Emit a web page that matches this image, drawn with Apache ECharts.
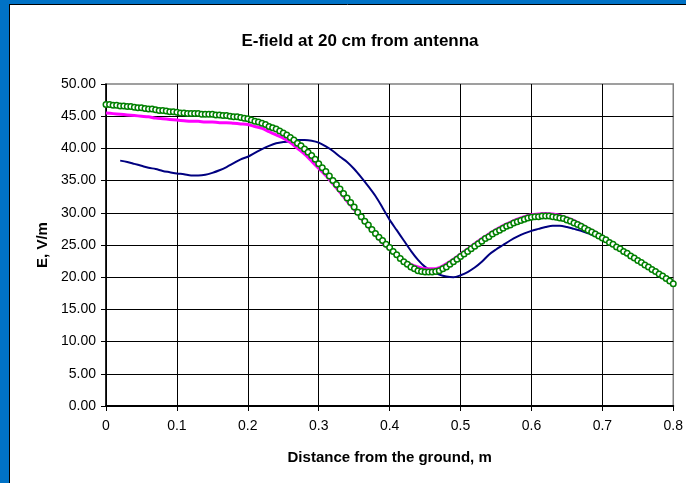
<!DOCTYPE html>
<html>
<head>
<meta charset="utf-8">
<script src="https://cdn.jsdelivr.net/npm/echarts@6/dist/echarts.min.js"></script>
<style>
html,body{margin:0;padding:0;background:#fff;}
#c{width:686px;height:483px;}
</style>
</head>
<body>
<div id="c"></div>
<script>
// ---- data ----
const xTicks = ['0','0.1','0.2','0.3','0.4','0.5','0.6','0.7','0.8'];
const yTicks = ['0.00','5.00','10.00','15.00','20.00','25.00','30.00','35.00','40.00','45.00','50.00'];

const navyStart = 0.02, navyStep = 0.01;
const navyValues = [38.1,37.9,37.6,37.3,37.0,36.8,36.5,36.3,36.1,36.0,
  35.8,35.8,35.9,36.2,36.6,37.1,37.7,38.3,38.7,39.3,
  39.9,40.4,40.8,41.0,41.1,41.3,41.3,41.2,40.9,40.3,
  39.6,38.7,37.9,36.8,35.5,34.1,32.6,30.8,28.9,27.3,
  25.7,24.1,22.7,21.6,20.9,20.4,20.1,20.0,20.3,20.8,
  21.5,22.4,23.5,24.3,25.0,25.7,26.3,26.8,27.2,27.5,
  27.8,28.0,28.0,27.8,27.5,27.2,26.8,26.4,25.9,25.4,24.8];

const magentaStart = 0, magentaStep = 0.01;
const magentaValues = [45.5,45.4,45.3,45.2,45.1,45.0,44.9,44.7,44.6,44.5,
  44.4,44.3,44.2,44.2,44.1,44.1,44.0,44.0,43.9,43.8,
  43.7,43.4,43.1,42.6,42.1,41.6,40.9,40.0,39.1,38.0,
  36.9,35.8,34.5,33.2,31.8,30.5,29.1,27.8,26.5,25.3,
  24.3,23.3,22.6,22.0,21.6,21.3,21.3,21.5,22.1,22.8,
  23.6,24.4,25.2,26.0,26.7,27.4,28.0,28.5,29.0,29.4,
  29.7,29.8,29.9,29.8,29.6,29.2,28.8,28.2,27.6,27.0,
  26.3,25.6,24.9,24.1,23.4,22.7,21.9,21.2,20.5,19.8,19.0];

const greenStart = 0, greenStep = 0.005;
const greenValues = [46.8,46.8,46.7,46.7,46.6,46.6,46.5,46.5,46.4,46.3,
  46.3,46.2,46.1,46.1,46.0,45.9,45.9,45.8,45.7,45.7,
  45.6,45.5,45.5,45.4,45.4,45.4,45.4,45.3,45.3,45.3,
  45.3,45.2,45.2,45.1,45.1,45.0,44.9,44.9,44.8,44.7,
  44.6,44.4,44.2,44.1,43.9,43.7,43.4,43.2,43.0,42.7,
  42.4,42.1,41.7,41.3,40.8,40.4,39.9,39.4,38.9,38.3,
  37.6,37.0,36.4,35.7,35.0,34.4,33.7,33.0,32.3,31.6,
  30.9,30.1,29.4,28.7,28.1,27.4,26.8,26.2,25.7,25.1,
  24.6,24.0,23.5,22.9,22.4,22.0,21.6,21.3,21.0,20.9,
  20.8,20.8,20.8,20.9,21.0,21.3,21.6,22.0,22.4,22.8,
  23.2,23.6,24.0,24.4,24.8,25.2,25.6,26.0,26.3,26.7,
  27.0,27.3,27.6,27.9,28.1,28.4,28.6,28.8,29.0,29.2,
  29.3,29.4,29.4,29.5,29.5,29.5,29.4,29.3,29.2,29.1,
  28.9,28.7,28.4,28.2,27.9,27.6,27.3,27.0,26.7,26.4,
  26.1,25.8,25.4,25.1,24.7,24.4,24.0,23.7,23.3,23.0,
  22.6,22.3,21.9,21.6,21.2,20.9,20.5,20.2,19.8,19.4,19.0];

function pairs(start, step, vals){
  return vals.map((v,i)=>[+(start + i*step).toFixed(4), v]);
}

const chart = echarts.init(document.getElementById('c'), null, {renderer:'canvas'});
const FONT = 'Liberation Sans, Arial, sans-serif';
chart.setOption({
  backgroundColor:'#fff',
  animation:false,
  textStyle:{fontFamily:FONT},
  graphic:[
    {type:'rect', shape:{x:0,y:0,width:686,height:4}, style:{fill:'#0072C6'}, z:-10},
    {type:'rect', shape:{x:0,y:0,width:9,height:483}, style:{fill:'#0072C6'}, z:-10},
    {type:'line', shape:{x1:9.5,y1:4,x2:9.5,y2:483}, style:{stroke:'#000',lineWidth:1}, z:-9},
    {type:'line', shape:{x1:9,y1:4.5,x2:686,y2:4.5}, style:{stroke:'#000',lineWidth:1}, z:-9}
  ],
  title:{
    text:'E-field at 20 cm from antenna',
    left:355, top:28, textAlign:'center',
    textStyle:{fontFamily:FONT, fontWeight:'bold', fontSize:17, color:'#000'}
  },
  grid:{left:106, right:10, top:84, bottom:77, show:true, borderColor:'#808080', borderWidth:1.5, backgroundColor:'transparent'},
  xAxis:{
    type:'value', min:0, max:0.8, interval:0.1,
    name:'Distance from the ground, m', nameLocation:'middle', nameGap:44,
    nameTextStyle:{fontFamily:FONT, fontWeight:'bold', fontSize:15, color:'#000'},
    axisLine:{lineStyle:{color:'#000', width:2}},
    axisTick:{show:true, length:5, lineStyle:{color:'#000'}},
    axisLabel:{margin:13, fontSize:14, color:'#000', fontFamily:FONT,
      formatter:(v)=>{ const i=Math.round(v*10); return xTicks[i]; }},
    splitLine:{show:true, showMaxLine:false, lineStyle:{color:'#000', width:1}}
  },
  yAxis:{
    type:'value', min:0, max:50, interval:5,
    name:'E, V/m', nameLocation:'middle', nameGap:56, nameRotate:90,
    nameTextStyle:{fontFamily:FONT, fontWeight:'bold', fontSize:15, color:'#000'},
    axisLine:{show:true, lineStyle:{color:'#000', width:1.5}},
    axisTick:{show:true, length:5, lineStyle:{color:'#000'}},
    axisLabel:{margin:10, fontSize:14, color:'#000', fontFamily:FONT,
      formatter:(v)=>yTicks[Math.round(v/5)]},
    splitLine:{show:true, showMaxLine:false, lineStyle:{color:'#000', width:1}}
  },
  series:[
    {type:'line', data:pairs(navyStart,navyStep,navyValues), showSymbol:false, smooth:0.3,
      lineStyle:{color:'#000080', width:2}, z:2},
    {type:'line', data:pairs(magentaStart,magentaStep,magentaValues), showSymbol:false, smooth:0.3,
      lineStyle:{color:'#FF00FF', width:3}, z:3},
    {type:'line', data:pairs(greenStart,greenStep,greenValues), symbol:'circle', symbolSize:5.5, showSymbol:true, smooth:0.3,
      lineStyle:{color:'#008000', width:1}, itemStyle:{color:'#fff', borderColor:'#008000', borderWidth:1.5}, z:4}
  ]
});
</script>
</body>
</html>
